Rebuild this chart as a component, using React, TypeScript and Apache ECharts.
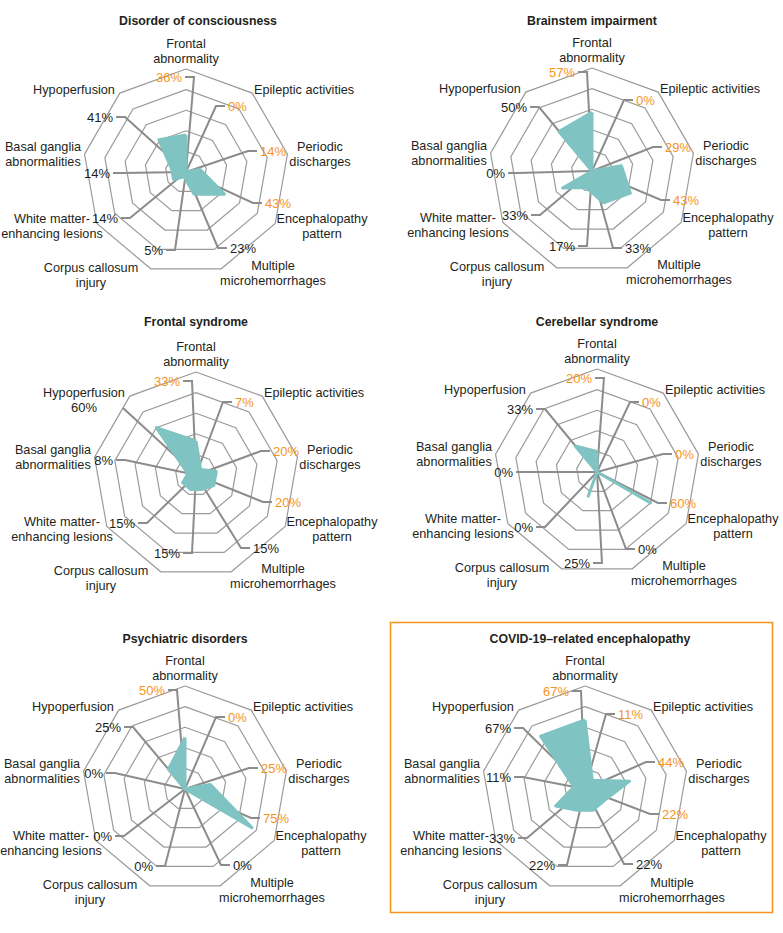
import React, { useEffect, useRef } from 'react';
import * as echarts from 'echarts';

// ---------- data ----------
const categories = [
  'Frontal\nabnormality',
  'Epileptic activities',
  'Periodic\ndischarges',
  'Encephalopathy\npattern',
  'Multiple\nmicrohemorrhages',
  'Corpus callosum\ninjury',
  'White matter-\nenhancing lesions',
  'Basal ganglia\nabnormalities',
  'Hypoperfusion',
];

const panelTitles = [
  'Disorder of consciousness',
  'Brainstem impairment',
  'Frontal syndrome',
  'Cerebellar syndrome',
  'Psychiatric disorders',
  'COVID-19–related encephalopathy',
];

const disorderOfConsciousness = [36, 0, 14, 43, 23, 5, 14, 14, 41];
const brainstemImpairment = [57, 0, 29, 43, 33, 17, 33, 0, 50];
const frontalSyndrome = [33, 7, 20, 20, 15, 15, 15, 8, 60];
const cerebellarSyndrome = [20, 0, 0, 60, 0, 25, 0, 0, 33];
const psychiatricDisorders = [50, 0, 25, 75, 0, 0, 0, 0, 25];
const covidEncephalopathy = [67, 11, 44, 22, 22, 22, 33, 11, 67];

const panelValues = [
  disorderOfConsciousness,
  brainstemImpairment,
  frontalSyndrome,
  cerebellarSyndrome,
  psychiatricDisorders,
  covidEncephalopathy,
];

// ---------- layout & style ----------
const W = 783;
const H = 933;
const RADIUS = 103;
const TEAL = '#7FC4C2';
const ORANGE = '#F7941D';
const DARK = '#231F20';
const GRID = '#9b9b9b';
const LEADER = '#8c8c8c';
const FONT = '"Liberation Sans", Arial, sans-serif';

const CENTERS = [
  [186, 172],
  [592, 171],
  [196, 475],
  [597, 472],
  [185, 789],
  [585, 789],
];
const TITLE_POS = [
  [198, 21],
  [592, 21],
  [196, 322],
  [597, 322],
  [185, 639],
  [590, 639],
];
// category label: [dx, dy (first line centre), align]
const CAT_LAYOUT: [number, number, string][] = [
  [0, -128, 'center'],
  [68, -82, 'left'],
  [134, -25, 'center'],
  [136, 47, 'center'],
  [87, 94, 'center'],
  [-95, 96, 'center'],
  [-134, 47, 'center'],
  [-143, -25, 'center'],
  [-112, -82, 'center'],
];
const VALUE_ALIGN = ['right', 'left', 'left', 'left', 'left', 'right', 'right', 'right', 'right'];
const VALUE_POS = [
  [[-4, -95], [42, -66], [74, -21], [79, 31], [44, 76], [-23, 78], [-68, 46], [-76, 1], [-73, -55]],
  [[-17, -99], [44, -71], [73, -24], [81, 29], [33, 77], [-17, 75], [-64, 44], [-87, 2], [-65, -64]],
  [[-16, -94], [39, -73], [77, -24], [79, 27], [57, 73], [-16, 78], [-61, 48], [-83, -15], [-112, -68]],
  [[-5, -94], [45, -70], [78, -18], [73, 31], [41, 77], [-7, 91], [-64, 55], [-84, 0], [-64, -63]],
  [[-20, -99], [43, -72], [76, -21], [78, 29], [48, 76], [-32, 77], [-73, 47], [-82, -16], [-64, -62]],
  [[-16, -98], [33, -75], [73, -27], [77, 25], [51, 75], [-30, 76], [-70, 49], [-74, -12], [-74, -61]],
];
// special case: in "Frontal syndrome" the hypoperfusion value sits under its name
const SPECIAL = { panel: 2, idx: 8, align: 'center', leader: [-73, -67] };

// ECharts radar lays indicators out counter-clockwise; reorder to get clockwise
const ORDER = [0, 8, 7, 6, 5, 4, 3, 2, 1];

function buildOption() {
  const radar = CENTERS.map(([cx, cy]) => ({
    center: [cx, cy],
    radius: RADIUS,
    startAngle: 90,
    shape: 'polygon',
    splitNumber: 5,
    indicator: ORDER.map(() => ({ name: '', min: 0, max: 100 })),
    axisName: { show: false },
    axisLine: { show: false },
    axisTick: { show: false },
    axisLabel: { show: false },
    splitArea: { show: false },
    splitLine: { lineStyle: { color: GRID, width: 1.2 } },
  }));

  const series = panelValues.map((vals, i) => ({
    type: 'radar',
    radarIndex: i,
    symbol: 'none',
    silent: true,
    z: 3,
    lineStyle: { color: TEAL, width: 3, join: 'round' },
    areaStyle: { color: TEAL, opacity: 1 },
    data: [{ value: ORDER.map((k) => vals[k]), name: panelTitles[i] }],
  }));

  const elements: any[] = [];
  panelValues.forEach((vals, p) => {
    const [cx, cy] = CENTERS[p];
    const [tx, ty] = TITLE_POS[p];
    elements.push({
      type: 'text',
      x: tx,
      y: ty,
      z: 10,
      style: {
        text: panelTitles[p],
        fill: DARK,
        font: `bold 12.3px ${FONT}`,
        align: 'center',
        verticalAlign: 'middle',
      },
    });
    categories.forEach((cat, k) => {
      const [dx, dy, al] = CAT_LAYOUT[k];
      elements.push({
        type: 'text',
        x: cx + dx,
        y: cy + dy - 7.25,
        z: 10,
        style: {
          text: cat,
          fill: DARK,
          font: `12.7px ${FONT}`,
          lineHeight: 14.5,
          align: al,
          verticalAlign: 'top',
        },
      });
      const [vx, vy] = VALUE_POS[p][k];
      const special = SPECIAL.panel === p && SPECIAL.idx === k;
      const align = special ? SPECIAL.align : VALUE_ALIGN[k];
      elements.push({
        type: 'text',
        x: cx + vx,
        y: cy + vy,
        z: 10,
        style: {
          text: `${vals[k]}%`,
          fill: k < 4 ? ORANGE : DARK,
          font: `13px ${FONT}`,
          align,
          verticalAlign: 'middle',
        },
      });
      let pts: number[][];
      if (special) {
        pts = [[cx, cy], [cx + SPECIAL.leader[0], cy + SPECIAL.leader[1]]];
      } else {
        const s = align === 'left' ? -1 : 1;
        pts = [
          [cx, cy],
          [cx + vx + s * 12, cy + vy],
          [cx + vx + s * 3, cy + vy],
        ];
      }
      elements.push({
        type: 'polyline',
        z: 1,
        silent: true,
        shape: { points: pts },
        style: { stroke: LEADER, lineWidth: 2, fill: null },
      });
    });
  });

  elements.push({
    type: 'rect',
    z: 1,
    shape: { x: 390.5, y: 622.5, width: 382, height: 290 },
    style: { stroke: ORANGE, lineWidth: 1.6, fill: null },
  });

  return {
    animation: false,
    backgroundColor: '#ffffff',
    radar,
    series,
    graphic: { elements },
  };
}

export default function App() {
  const ref = useRef<HTMLDivElement>(null);
  useEffect(() => {
    if (!ref.current) return;
    const chart = echarts.init(ref.current, undefined, { renderer: 'svg', width: W, height: H });
    chart.setOption(buildOption() as any);
    return () => chart.dispose();
  }, []);
  return (
    <div
      ref={ref}
      style={{ position: 'absolute', left: 0, top: 0, width: W, height: H, background: '#fff' }}
    />
  );
}
